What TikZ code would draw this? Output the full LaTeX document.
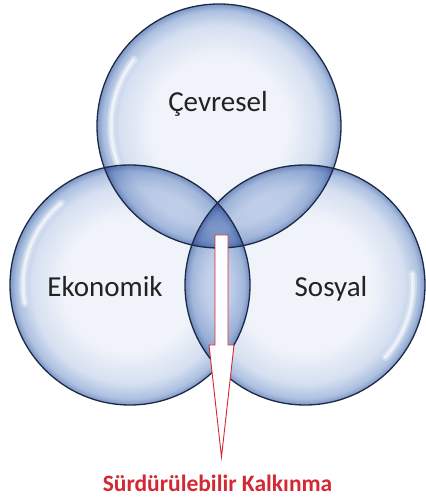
\documentclass[tikz,border=0pt]{standalone}
\usepackage{fontspec}
\setmainfont{Carlito}
\definecolor{bubA}{RGB}{240,243,250}
\definecolor{bubB}{RGB}{214,224,241}
\definecolor{bubC}{RGB}{172,192,224}
\definecolor{bubD}{RGB}{125,150,196}
\definecolor{rimcol}{RGB}{28,42,70}
\definecolor{arrred}{RGB}{212,40,52}
\definecolor{txtcol}{RGB}{34,34,34}
\pgfdeclareradialshading{bubble}{\pgfpoint{0bp}{0bp}}{color(0bp)=(bubA); color(14bp)=(bubA); color(20.5bp)=(bubB); color(23.7bp)=(bubC); color(25bp)=(bubD); color(50bp)=(bubD)}
\tikzset{
  rim/.style={draw=rimcol, line width=1.3pt},
  hlwide/.style={draw=white, line width=8pt, line cap=round, opacity=0.3},
  hl/.style={draw=white, line width=3.5pt, line cap=round, opacity=0.6},
  lbl/.style={text=txtcol, font=\fontsize{29}{29}\selectfont, inner sep=0pt, anchor=base},
  ttl/.style={text=arrred, font=\fontsize{23.5}{23.5}\selectfont\bfseries, inner sep=0pt, anchor=base},
  blockarrow/.style={draw=arrred, fill=white, line width=0.9pt, line join=miter}
}
\begin{document}
\begin{tikzpicture}[x=1pt,y=1pt]
\useasboundingbox[fill=white] (0,0) rectangle (426,499);
\coordinate (cT) at (219,373);
\coordinate (cL) at (130,214);
\coordinate (cR) at (305,214);
\begin{scope}[blend mode=multiply]
  \shade[shading=bubble] (cT) circle[radius=122pt];
  \shade[shading=bubble] (cL) circle[radius=120pt];
  \shade[shading=bubble] (cR) circle[radius=120pt];
\end{scope}
% highlights
\foreach \s in {hlwide,hl}{
  \draw[\s] ([shift={(142:108pt)}]cT) arc[start angle=142, end angle=200, radius=108pt];
  \draw[\s] ([shift={(130:107pt)}]cL) arc[start angle=130, end angle=190, radius=107pt];
  \draw[\s] ([shift={(6:108pt)}]cR) arc[start angle=6, end angle=-42, radius=108pt];
}
% rims
\draw[rim] (cT) circle[radius=122pt];
\draw[rim] (cL) circle[radius=120pt];
\draw[rim] (cR) circle[radius=120pt];
% labels
\node[lbl] (cev) at (218,387) {Çevresel};
\node[lbl] (eko) at (105,202) {Ekonomik};
\node[lbl] (sos) at (331,202) {Sosyal};
% arrow
\coordinate (tip) at (221.5,42);
\draw[blockarrow] (215,264) -- (228,264) -- (228,154) -- (234,154) -- (tip) -- (209,154) -- (215,154) -- cycle;
\node[ttl] (sk) at (217.5,7) {Sürdürülebilir Kalkınma};
\end{tikzpicture}
\end{document}
